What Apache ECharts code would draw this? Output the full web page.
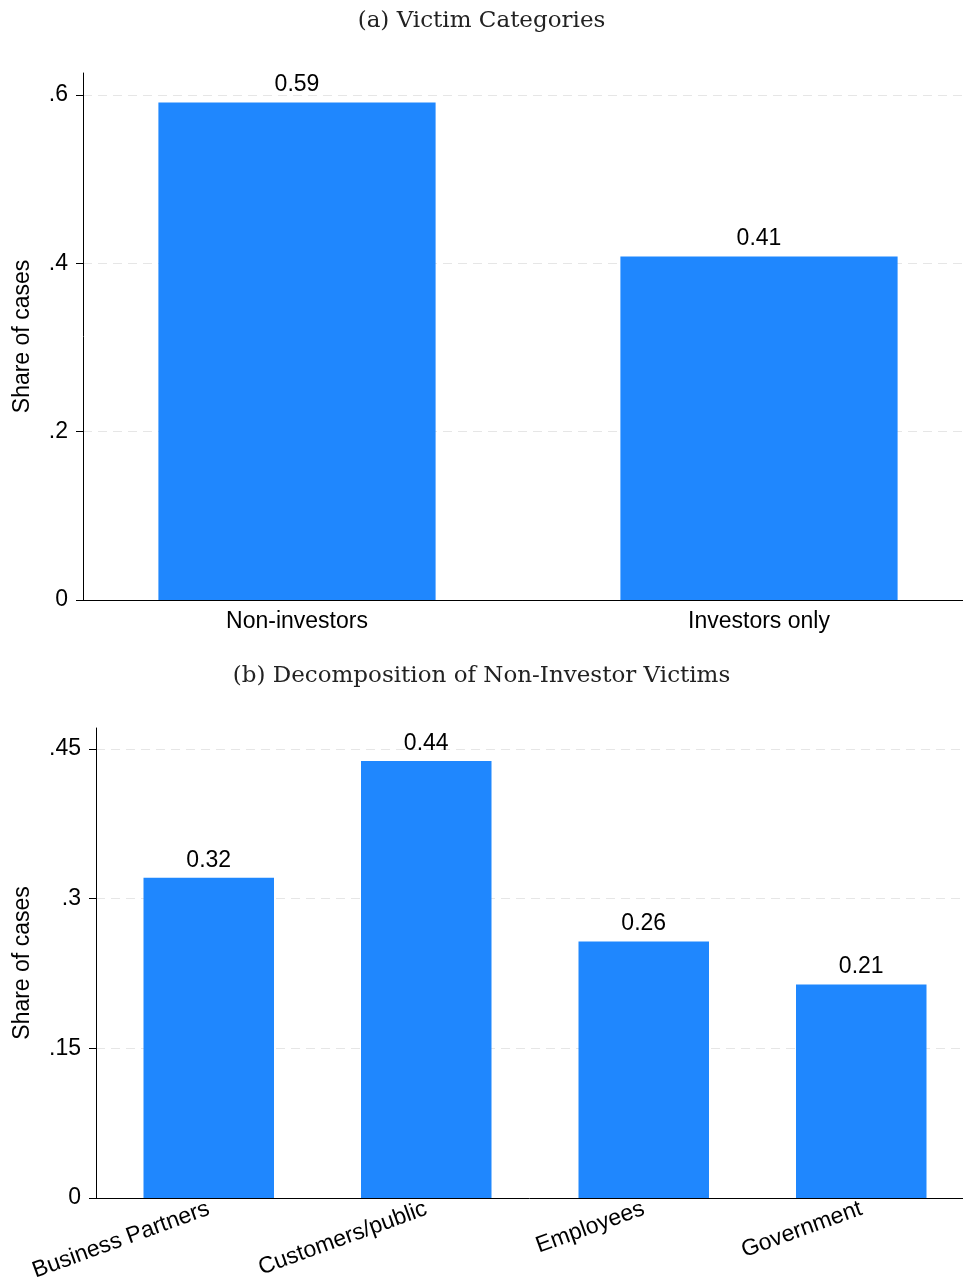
<!DOCTYPE html>
<html>
<head>
<meta charset="utf-8">
<script src="https://cdn.jsdelivr.net/npm/echarts@6/dist/echarts.min.js"></script>
<style>
html,body{margin:0;padding:0;background:#fff;}
#chart{width:963px;height:1281px;}
</style>
</head>
<body>
<div id="chart"></div>
<script>
const titleA = '(a) Victim Categories';
const titleB = '(b) Decomposition of Non-Investor Victims';
const yAxisTitle = 'Share of cases';
const topCategories = ['Non-investors', 'Investors only'];
const topValues = [0.591, 0.408];
const topTicks = { min: 0, max: 0.6, interval: 0.2 };
const bottomCategories = ['Business Partners', 'Customers/public', 'Employees', 'Government'];
const bottomValues = [0.321, 0.438, 0.257, 0.214];
const bottomTicks = { min: 0, max: 0.45, interval: 0.15 };

const SANS = 'Liberation Sans';
const SERIF = 'DejaVu Serif';
const BAR = '#1f87fe';
const FS = 23;

function tickFmt(v) {
  if (Math.abs(v) < 1e-9) return '0';
  return String(+v.toFixed(2)).replace(/^0/, '');
}

const chart = echarts.init(document.getElementById('chart'), null, { renderer: 'canvas' });

function g(left, top, width, height) {
  return { left: left, top: top, width: width, height: height, outerBoundsMode: 'none', containLabel: false };
}
const grids = [
  // top frame, top ticks, top bars
  g(83, 73, 880, 527),
  g(83, 95, 880, 505),
  g(66, 95, 924, 505),
  // bottom frame, bottom ticks, bottom bars
  g(96, 728, 867, 470),
  g(96, 749, 867, 449),
  g(100, 749, 870, 449)
];

function frameX(gi) {
  return { type: 'value', gridIndex: gi, min: 0, max: 1, z: 10,
    axisLine: { show: true, onZero: false, lineStyle: { color: '#000', width: 1 } },
    axisTick: { show: false }, axisLabel: { show: false }, splitLine: { show: false } };
}
function frameY(gi, gap) {
  return { type: 'value', gridIndex: gi, min: 0, max: 1, z: 10,
    name: yAxisTitle, nameLocation: 'middle', nameGap: gap,
    nameTextStyle: { fontFamily: SANS, fontSize: FS, color: '#000' },
    axisLine: { show: true, lineStyle: { color: '#000', width: 1 } },
    axisTick: { show: false }, axisLabel: { show: false }, splitLine: { show: false } };
}
function hiddenX(gi) {
  return { type: 'value', gridIndex: gi, min: 0, max: 1, show: false };
}
function tickY(gi, t) {
  return { type: 'value', gridIndex: gi, min: t.min, max: t.max, interval: t.interval,
    axisLine: { show: false },
    axisTick: { show: true, inside: false, length: 7, lineStyle: { color: '#000', width: 1 } },
    axisLabel: { show: true, margin: 15, fontFamily: SANS, fontSize: FS, color: '#000', formatter: tickFmt },
    splitLine: { show: true, lineStyle: { color: '#e6e6e6', width: 1.2, type: [9, 6] } } };
}
function catX(gi, cats, rotate, margin) {
  return { type: 'category', gridIndex: gi, data: cats,
    axisLine: { show: false }, axisTick: { show: false }, splitLine: { show: false },
    axisLabel: { show: true, interval: 0, rotate: rotate, margin: margin,
      fontFamily: SANS, fontSize: FS, color: '#000' } };
}
function hiddenY(gi, t) {
  return { type: 'value', gridIndex: gi, min: t.min, max: t.max, show: false, splitLine: { show: false } };
}
function barSeries(xi, yi, vals) {
  return { type: 'bar', xAxisIndex: xi, yAxisIndex: yi, data: vals, barWidth: '60%',
    itemStyle: { color: BAR }, z: 3, silent: true,
    label: { show: true, position: 'top', distance: 6, fontFamily: SANS, fontSize: FS, color: '#000',
      formatter: p => p.value.toFixed(2) } };
}

const option = {
  backgroundColor: '#fff',
  animation: false,
  title: [
    { text: titleA, left: 'center', top: 5, textStyle: { fontFamily: SERIF, fontSize: 23, fontWeight: 'normal', color: '#222' } },
    { text: titleB, left: 'center', top: 660, textStyle: { fontFamily: SERIF, fontSize: 23, fontWeight: 'normal', color: '#222' } }
  ],
  grid: grids,
  xAxis: [
    frameX(0), hiddenX(1), catX(2, topCategories, 0, 10),
    frameX(3), hiddenX(4), catX(5, bottomCategories, 20, 10)
  ],
  yAxis: [
    frameY(0, 49), tickY(1, topTicks), hiddenY(2, topTicks),
    frameY(3, 62), tickY(4, bottomTicks), hiddenY(5, bottomTicks)
  ],
  series: [
    barSeries(2, 2, topValues),
    barSeries(5, 5, bottomValues)
  ]
};
chart.setOption(option);
</script>
</body>
</html>
